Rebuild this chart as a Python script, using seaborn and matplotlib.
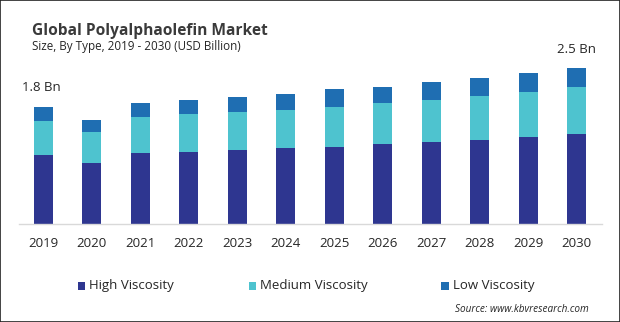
import matplotlib
matplotlib.use("Agg")
import matplotlib.pyplot as plt
import seaborn as sns
import pandas as pd
import numpy as np
from matplotlib.patches import Rectangle

years = ["2019", "2020", "2021", "2022", "2023", "2024", "2025", "2026", "2027", "2028", "2029", "2030"]
high = [1.08, 0.95, 1.11, 1.13, 1.16, 1.19, 1.20, 1.25, 1.28, 1.31, 1.36, 1.41]
medium = [0.53, 0.48, 0.56, 0.58, 0.59, 0.59, 0.63, 0.64, 0.66, 0.69, 0.70, 0.73]
low = [0.22, 0.20, 0.22, 0.23, 0.23, 0.25, 0.27, 0.25, 0.28, 0.28, 0.30, 0.30]
series = ["High Viscosity", "Medium Viscosity", "Low Viscosity"]
colors = ["#2E3690", "#4EC3CF", "#1F6EB2"]
first_label = "1.8 Bn"
last_label = "2.5 Bn"

sns.set_theme(style="white")
plt.rcParams["font.family"] = ["Open Sans", "DejaVu Sans"]

df = pd.DataFrame({"year": years, "high": high, "medium": medium, "low": low})
df["hm"] = df["high"] + df["medium"]
df["total"] = df["hm"] + df["low"]

fig = plt.figure(figsize=(6.2, 3.22), dpi=100)
ax = fig.add_axes([0.0306, 0.304, 0.9404, 0.51])

for col, c in zip(["total", "hm", "high"], [colors[2], colors[1], colors[0]]):
    sns.barplot(data=df, x="year", y=col, color=c, width=0.39, ax=ax,
                saturation=1, edgecolor="none", linewidth=0)

ax.set_xlim(-0.5, 11.52)
ax.set_ylim(0, 2.56)
ax.set_xlabel("")
ax.set_ylabel("")
ax.set_yticks([])
for s in ["top", "right", "left"]:
    ax.spines[s].set_visible(False)
ax.spines["bottom"].set_color("#d9d9d9")
ax.spines["bottom"].set_linewidth(1)
ax.tick_params(axis="x", length=0, pad=9, labelsize=9.5, labelcolor="#262626")

ax.annotate(first_label, xy=(0, df["total"].iloc[0]), xytext=(-15, 9), textcoords="offset points",
            ha="left", va="bottom", fontsize=9.5, color="#262626")
ax.annotate(last_label, xy=(11, df["total"].iloc[-1]), xytext=(0, 8), textcoords="offset points",
            ha="center", va="bottom", fontsize=9.5, color="#262626")

fig.text(0.052, 0.905, "Global Polyalphaolefin Market", fontsize=11.2, fontweight="bold",
         color="#3a3a3a", ha="left", va="center")
fig.text(0.052, 0.856, "Size, By Type, 2019 - 2030 (USD Billion)", fontsize=8.4,
         color="#262626", ha="left", va="center")

leg_x = [0.125, 0.401, 0.712]
for x, lab, c in zip(leg_x, series, colors):
    fig.patches.append(Rectangle((x, 0.1), 0.0125, 0.024, transform=fig.transFigure,
                                 facecolor=c, edgecolor="none"))
    fig.text(x + 0.018, 0.113, lab, fontsize=9.5, color="#262626", ha="left", va="center")

fig.text(0.95, 0.038, "Source: www.kbvresearch.com", fontsize=7.2, style="italic",
         color="#262626", ha="right", va="center")

fig.patches.append(Rectangle((0.0008, 0.0015), 0.9984, 0.997, transform=fig.transFigure,
                             facecolor="none", edgecolor="#222222", linewidth=1.2))

fig.savefig("out.png", dpi=100)
